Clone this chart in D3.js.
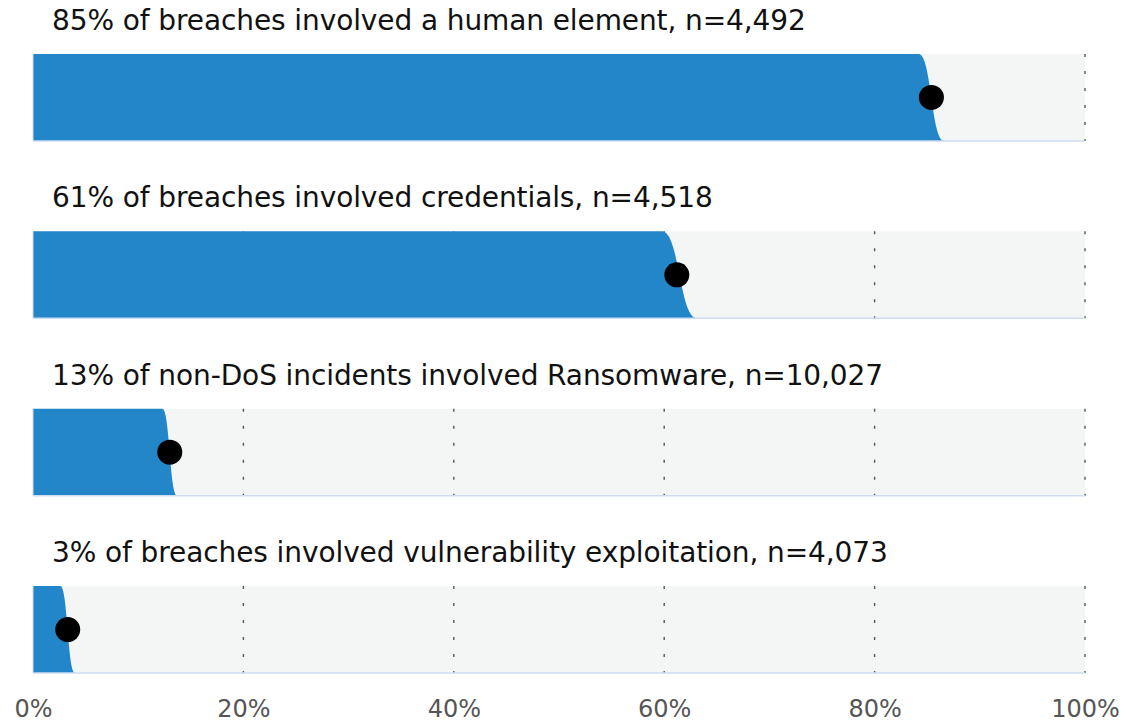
<!DOCTYPE html>
<html>
<head>
<meta charset="utf-8">
<script src="https://cdn.jsdelivr.net/npm/d3@7"></script>
<style>
  body { margin: 0; background: #fff; }
  text { font-family: "DejaVu Sans", sans-serif; }
</style>
</head>
<body>
<div id="chart"></div>
<script>
// values
let labels = [
    "85% of breaches involved a human element, n=4,492",
    "61% of breaches involved credentials, n=4,518",
    "13% of non-DoS incidents involved Ransomware, n=10,027",
    "3% of breaches involved vulnerability exploitation, n=4,073"
];
let estimates = [85.4, 61.2, 13.0, 3.3];
let lowBounds = [84.2, 59.8, 12.3, 2.6];
let highBounds = [86.6, 63.1, 13.7, 4.0];
let ticks = [0, 20, 40, 60, 80, 100];

let width = 1127, height = 722;
let margin = {left: 33, right: 42, top: 54, bottom: 49};

let svg = d3.select("#chart")
    .append("svg")
    .attr("width", width)
    .attr("height", height);

let x = d3.scaleLinear()
    .domain([0, 100])
    .range([margin.left, width - margin.right]);

let y = d3.scaleBand()
    .domain(d3.range(labels.length))
    .range([margin.top, height - margin.bottom])
    .paddingInner(0.51)
    .paddingOuter(0);

let rows = svg.selectAll("g.row")
    .data(labels.map(function(d, i) {
        return {label: d, est: estimates[i], lo: lowBounds[i], hi: highBounds[i], i: i};
    }))
    .enter()
    .append("g")
    .attr("class", "row");

// grey track
rows.append("rect")
    .attr("x", x(0))
    .attr("y", function(d) { return y(d.i); })
    .attr("width", x(100) - x(0))
    .attr("height", y.bandwidth())
    .attr("fill", "#f4f6f6");

// dashed grid inside each track
rows.each(function(d) {
    d3.select(this).selectAll("line.grid")
        .data(ticks.slice(1))
        .enter()
        .append("line")
        .attr("class", "grid")
        .attr("x1", function(t) { return x(t); })
        .attr("x2", function(t) { return x(t); })
        .attr("y1", y(d.i))
        .attr("y2", y(d.i) + y.bandwidth())
        .attr("stroke", "#555")
        .attr("stroke-width", 1.4)
        .attr("stroke-dasharray", "3,14");
});

// blue fill with soft s-shaped end between low and high bound
rows.append("path")
    .attr("fill", "#2386c8")
    .attr("d", function(d) {
        let top = y(d.i), bot = y(d.i) + y.bandwidth();
        let lo = x(d.lo), hi = x(d.hi);
        let k = (hi - lo) * 0.5;
        let p = d3.path();
        p.moveTo(x(0), top);
        p.lineTo(lo, top);
        p.bezierCurveTo(lo + k, top, hi - k, bot, hi, bot);
        p.lineTo(x(0), bot);
        p.closePath();
        return p.toString();
    });

// thin light baseline and left edge
rows.append("line")
    .attr("x1", x(0))
    .attr("x2", x(100))
    .attr("y1", function(d) { return y(d.i) + y.bandwidth(); })
    .attr("y2", function(d) { return y(d.i) + y.bandwidth(); })
    .attr("stroke", "#cddcf0")
    .attr("stroke-width", 1.5);

rows.append("line")
    .attr("x1", x(0))
    .attr("x2", x(0))
    .attr("y1", function(d) { return y(d.i); })
    .attr("y2", function(d) { return y(d.i) + y.bandwidth(); })
    .attr("stroke", "#cddcf0")
    .attr("stroke-width", 1);

rows.append("circle")
    .attr("cx", function(d) { return x(d.est); })
    .attr("cy", function(d) { return y(d.i) + y.bandwidth() / 2; })
    .attr("r", 12.5)
    .attr("fill", "#000");

rows.append("text")
    .attr("x", 52)
    .attr("y", function(d) { return y(d.i) - 24; })
    .attr("font-size", 28)
    .attr("letter-spacing", -0.1)
    .attr("fill", "#111")
    .text(function(d) { return d.label; });

// bottom axis
let xAxis = d3.axisBottom(x)
    .tickValues(ticks)
    .tickSize(0)
    .tickFormat(function(d) { return d + "%"; });

let axisG = svg.append("g")
    .attr("transform", `translate(0, ${height - margin.bottom})`)
    .call(xAxis);
axisG.select(".domain").remove();
axisG.selectAll("text")
    .attr("y", 44)
    .attr("dy", 0)
    .style("font-size", "24px")
    .style("font-family", "'DejaVu Sans', sans-serif")
    .attr("fill", "#555");
</script>
</body>
</html>
